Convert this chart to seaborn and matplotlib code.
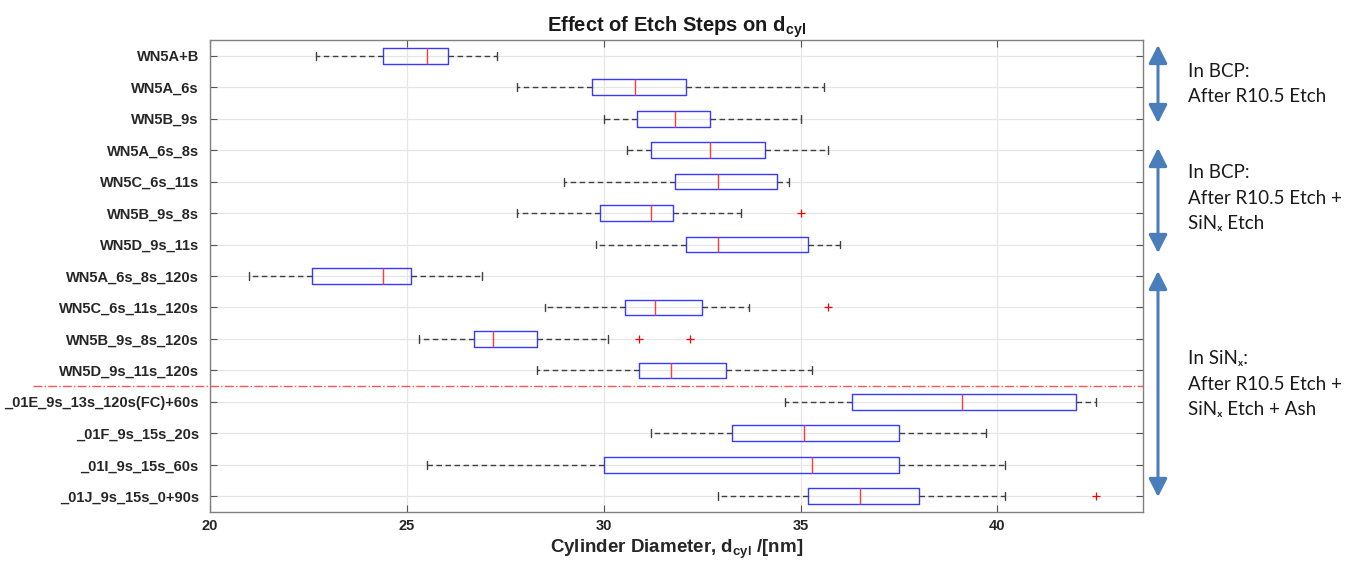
import numpy as np
import pandas as pd
import matplotlib
matplotlib.use("Agg")
import matplotlib.pyplot as plt
from matplotlib.patches import FancyArrowPatch
import seaborn as sns

# ---------------- data ----------------
categories = ["WN5A+B", "WN5A_6s", "WN5B_9s", "WN5A_6s_8s", "WN5C_6s_11s", "WN5B_9s_8s",
              "WN5D_9s_11s", "WN5A_6s_8s_120s", "WN5C_6s_11s_120s", "WN5B_9s_8s_120s",
              "WN5D_9s_11s_120s", "_01E_9s_13s_120s(FC)+60s", "_01F_9s_15s_20s",
              "_01I_9s_15s_60s", "_01J_9s_15s_0+90s"]
whisker_low = [22.7, 27.8, 30.0, 30.6, 29.0, 27.8, 29.8, 21.0, 28.5, 25.3, 28.3, 34.6, 31.2, 25.5, 32.9]
q1 = [24.4, 29.7, 30.85, 31.2, 31.8, 29.9, 32.1, 22.6, 30.55, 26.7, 30.9, 36.3, 33.25, 30.0, 35.2]
median = [25.5, 30.8, 31.8, 32.7, 32.9, 31.2, 32.9, 24.4, 31.3, 27.2, 31.7, 39.1, 35.1, 35.3, 36.5]
q3 = [26.05, 32.1, 32.7, 34.1, 34.4, 31.75, 35.2, 25.1, 32.5, 28.3, 33.1, 42.0, 37.5, 37.5, 38.0]
whisker_high = [27.3, 35.6, 35.0, 35.7, 34.7, 33.5, 36.0, 26.9, 33.7, 30.1, 35.3, 42.5, 39.7, 40.2, 40.2]
outlier_cat = ["WN5B_9s_8s", "WN5C_6s_11s_120s", "WN5B_9s_8s_120s", "WN5B_9s_8s_120s", "_01J_9s_15s_0+90s"]
outlier_val = [35.0, 35.7, 30.9, 32.2, 42.5]
x_ticks = [20, 25, 30, 35, 40]
group_labels = ["In BCP:\nAfter R10.5 Etch",
                "In BCP:\nAfter R10.5 Etch +\nSiN\u2093 Etch",
                "In SiN\u2093:\nAfter R10.5 Etch +\nSiN\u2093 Etch + Ash"]

# long-form table of the five-number summaries
rows = []
for i, c in enumerate(categories):
    for v in (whisker_low[i], q1[i], median[i], q3[i], whisker_high[i]):
        rows.append({"sample": c, "value": v})
df = pd.DataFrame(rows)

# ---------------- style ----------------
sns.set_theme(style="whitegrid")
plt.rcParams["font.family"] = ["Liberation Sans", "DejaVu Sans"]
plt.rcParams["mathtext.fontset"] = "custom"
plt.rcParams["mathtext.bf"] = "Liberation Sans:bold"
plt.rcParams["mathtext.rm"] = "Liberation Sans"

W, H = 1365, 571
fig = plt.figure(figsize=(W / 100, H / 100), dpi=100)
ax_l, ax_r, ax_t, ax_b = 210, 1143, 40, 512
ax = fig.add_axes([ax_l / W, 1 - ax_b / H, (ax_r - ax_l) / W, (ax_b - ax_t) / H])

sns.boxplot(data=df, x="value", y="sample", order=categories, orient="h",
            whis=(0, 100), fill=False, color="#3a3aff", width=0.5, linewidth=1.0,
            showfliers=False,
            whiskerprops=dict(color="#404040", linestyle=(0, (4, 2.5)), linewidth=1.0),
            capprops=dict(color="#404040", linewidth=1.0),
            medianprops=dict(color="#ff3a3a", linewidth=1.0),
            ax=ax)

sns.scatterplot(x=outlier_val, y=outlier_cat, marker="+", color="red", s=36,
                linewidth=0.9, ax=ax, legend=False, zorder=5)

ax.set_xlim(20, 43.7)
ax.set_ylim(len(categories) - 0.5, -0.5)
ax.set_xticks(x_ticks)
ax.set_xticklabels([str(t) for t in x_ticks])

# separator line between groups
ax.plot([-0.19, 1.0], [10.5, 10.5], transform=ax.get_yaxis_transform(),
        color="#ff5555", linestyle="-.", linewidth=1.0, clip_on=False, zorder=4)

ax.grid(True, color="#e6e6e6", linewidth=0.9)
ax.set_axisbelow(True)
for s in ax.spines.values():
    s.set_visible(True)
    s.set_color("#808080")
    s.set_linewidth(1.0)
ax.tick_params(axis="both", which="both", direction="in", length=5, width=0.8,
               color="#555555", top=True, right=True, bottom=True, left=True,
               labelcolor="#262626", labelsize=10.5)
ax.tick_params(axis="y", pad=8)
ax.tick_params(axis="x", pad=5)
for lab in ax.get_yticklabels() + ax.get_xticklabels():
    lab.set_fontweight("bold")

ax.set_ylabel("")
ax.set_xlabel(r"Cylinder Diameter, d$_{\mathbf{cyl}}$ /[nm]", fontsize=13.5,
              fontweight="bold", color="#262626", labelpad=3)
ax.set_title(r"Effect of Etch Steps on d$_{\mathbf{cyl}}$", fontsize=14.5,
             fontweight="bold", color="#1a1a1a", pad=5)

# ---------------- right-hand annotations ----------------
def fx(px):
    return px / W

def fy(py):
    return 1 - py / H

arrow_color = "#4a7ebb"
arrow_spans = [(45, 123), (148, 253), (271, 497)]
for y0, y1 in arrow_spans:
    arr = FancyArrowPatch((fx(1158), fy(y0)), (fx(1158), fy(y1)),
                          transform=fig.transFigure,
                          arrowstyle="<|-|>,head_length=0.55,head_width=0.28",
                          mutation_scale=20, color=arrow_color, linewidth=2.2,
                          shrinkA=0, shrinkB=0)
    fig.add_artist(arr)

text_centers = [84, 198, 384]
for label, yc in zip(group_labels, text_centers):
    fig.text(fx(1188), fy(yc), label, ha="left", va="center", fontsize=13.5,
             family=["Lato", "DejaVu Sans"], color="#1a1a1a", linespacing=1.6)

fig.savefig("out.png", dpi=100)
